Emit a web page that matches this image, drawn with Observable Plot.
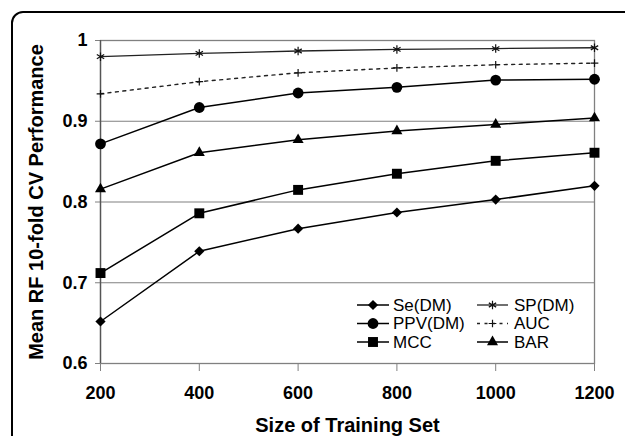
<!DOCTYPE html>
<html>
<head>
<meta charset="utf-8">
<script src="https://cdn.jsdelivr.net/npm/d3@7"></script>
<script src="https://cdn.jsdelivr.net/npm/@observablehq/plot@0.6"></script>
<style>
  html, body { margin: 0; padding: 0; background: white; overflow: hidden; }
  #wrap { position: relative; width: 625px; height: 436px; overflow: hidden; }
  #border { position: absolute; left: 11px; top: 11px; width: 700px; height: 520px;
            border: 2px solid black; border-radius: 12px; pointer-events: none; box-sizing: border-box; }
  #legend { position: absolute; left: 0; top: 0; pointer-events: none; }
</style>
</head>
<body>
<div id="wrap"><div id="chart"></div><svg id="legend" width="625" height="436"></svg><div id="border"></div></div>
<script>
// ---- data ----
const sizes = [200, 400, 600, 800, 1000, 1200];
const seDM  = [0.652, 0.739, 0.767, 0.787, 0.803, 0.820];
const spDM  = [0.980, 0.984, 0.987, 0.989, 0.990, 0.991];
const ppvDM = [0.872, 0.917, 0.935, 0.942, 0.951, 0.952];
const auc   = [0.934, 0.949, 0.960, 0.966, 0.970, 0.972];
const mcc   = [0.712, 0.786, 0.815, 0.835, 0.851, 0.861];
const bar   = [0.816, 0.861, 0.877, 0.888, 0.896, 0.904];
const seriesNames = ["Se(DM)", "SP(DM)", "PPV(DM)", "AUC", "MCC", "BAR"];
const xTicks = [200, 400, 600, 800, 1000, 1200];
const yTicks = [0.6, 0.7, 0.8, 0.9, 1];
const xLabel = "Size of Training Set";
const yLabel = "Mean RF 10-fold CV Performance";

// ---- styles ----
const seriesValues = [seDM, spDM, ppvDM, auc, mcc, bar];
const styles = {
  "Se(DM)":  {symbol: "diamond2", r: 4.6, filled: true,  lineStroke: "#000", width: 1.5, dash: null},
  "SP(DM)":  {symbol: "asterisk", r: 4.0, filled: false, lineStroke: "#222", width: 1.3, dash: null},
  "PPV(DM)": {symbol: "circle",   r: 5.4, filled: true,  lineStroke: "#000", width: 1.5, dash: null},
  "AUC":     {symbol: "plus",     r: 2.6, filled: false, lineStroke: "#222", width: 1.4, dash: "3,4.5"},
  "MCC":     {symbol: "square",   r: 5.6, filled: true,  lineStroke: "#000", width: 1.5, dash: null},
  "BAR":     {symbol: "triangle", r: 4.1, filled: true,  lineStroke: "#000", width: 1.5, dash: null}
};

const marks = [];
marks.push(Plot.gridY(yTicks.filter(d => d > 0.6), {stroke: "#808080", strokeOpacity: 1, strokeWidth: 1.2}));
marks.push(Plot.frame({stroke: "#808080", strokeWidth: 1.3}));
marks.push(Plot.axisY({ticks: yTicks, tickSize: 5, tickPadding: 8, tickFormat: d => String(d),
  stroke: "#808080", fill: "black", fontSize: 18, fontWeight: "bold", label: null}));
marks.push(Plot.axisX({ticks: xTicks, tickSize: 8, tickPadding: 15, tickFormat: d => String(d),
  stroke: "#808080", fill: "black", fontSize: 18, fontWeight: "bold", label: null}));
marks.push(Plot.ruleX([200], {stroke: "#555", strokeWidth: 1.3}));

seriesNames.forEach((name, i) => {
  const s = styles[name];
  const data = sizes.map((x, j) => ({x, y: seriesValues[i][j]}));
  marks.push(Plot.line(data, {x: "x", y: "y", stroke: s.lineStroke, strokeWidth: s.width,
    strokeDasharray: s.dash || undefined}));
  marks.push(Plot.dot(data, {x: "x", y: "y", symbol: () => s.symbol, r: s.r,
    fill: s.filled ? "black" : "none", stroke: s.filled ? "none" : "#111", strokeWidth: s.filled ? 0 : 1.2}));
});

marks.push(Plot.text([xLabel], {frameAnchor: "bottom", lineAnchor: "middle", textAnchor: "middle", dy: 62,
  fontSize: 20, fontWeight: "bold", fill: "black"}));
marks.push(Plot.text([yLabel], {frameAnchor: "left", lineAnchor: "middle", textAnchor: "middle", dx: -64, rotate: -90,
  fontSize: 20, fontWeight: "bold", fill: "black"}));

const chart = Plot.plot({
  width: 625, height: 436,
  marginLeft: 100, marginRight: 31, marginTop: 40, marginBottom: 73,
  x: {domain: [200, 1200]},
  y: {domain: [0.6, 1]},
  style: {fontFamily: "'Liberation Sans', Arial, sans-serif", fontSize: "18px", fontWeight: "bold",
    background: "white", overflow: "visible"},
  marks
});
document.getElementById("chart").appendChild(chart);

// ---- legend ----
const symMap = {diamond2: d3.symbolDiamond2, asterisk: d3.symbolAsterisk, circle: d3.symbolCircle,
  plus: d3.symbolPlus, square: d3.symbolSquare, triangle: d3.symbolTriangle};
const leg = d3.select("#legend");
const legendOrder = [["Se(DM)", "SP(DM)"], ["PPV(DM)", "AUC"], ["MCC", "BAR"]];
const rowY = [305, 323.5, 342];
const cols = [{x0: 357, x1: 389, tx: 393}, {x0: 477, x1: 508, tx: 514}];
legendOrder.forEach((row, ri) => {
  row.forEach((name, ci) => {
    const s = styles[name], c = cols[ci], y = rowY[ri];
    const g = leg.append("g");
    g.append("line").attr("x1", c.x0).attr("x2", c.x1).attr("y1", y).attr("y2", y)
      .attr("stroke", s.lineStroke).attr("stroke-width", s.width)
      .attr("stroke-dasharray", s.dash || null);
    g.append("path").attr("d", d3.symbol(symMap[s.symbol], Math.PI * s.r * s.r)())
      .attr("transform", `translate(${(c.x0 + c.x1) / 2},${y})`)
      .attr("fill", s.filled ? "black" : "none").attr("stroke", s.filled ? "none" : "#111")
      .attr("stroke-width", s.filled ? 0 : 1.2);
    g.append("text").attr("x", c.tx).attr("y", y).attr("dy", "0.35em")
      .attr("font-family", "'Liberation Sans', Arial, sans-serif").attr("font-size", 17)
      .attr("fill", "black").text(name);
  });
});
</script>
</body>
</html>
